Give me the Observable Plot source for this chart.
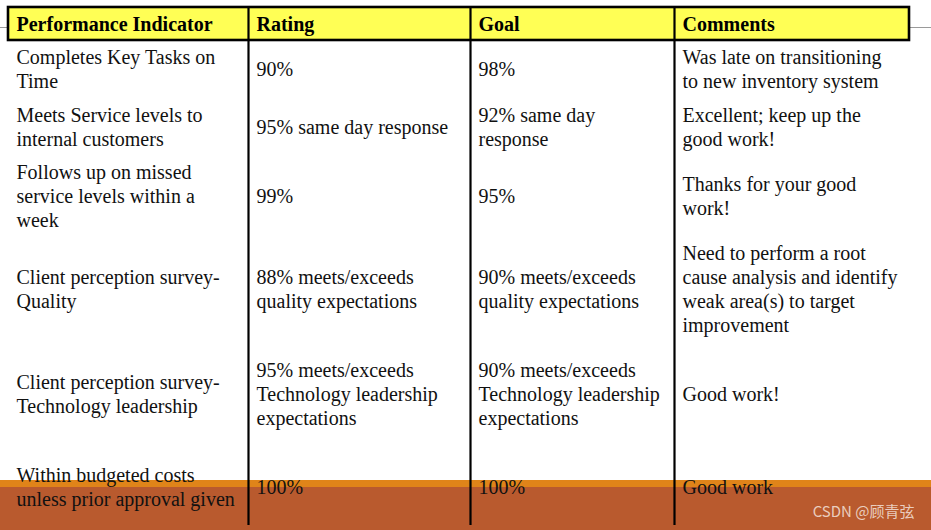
<!DOCTYPE html>
<html>
<head>
<meta charset="utf-8">
<script src="https://cdn.jsdelivr.net/npm/d3@7"></script>
<script src="https://cdn.jsdelivr.net/npm/@observablehq/plot@0.6"></script>
<style>
  html, body { margin: 0; padding: 0; background: #fff; }
  #chart svg { display: block; }
</style>
</head>
<body>
<div id="chart"></div>
<script>
// ---- data (content) ----
const headers = ["Performance Indicator", "Rating", "Goal", "Comments"];
const indicators = [
  "Completes Key Tasks on\nTime",
  "Meets Service levels to\ninternal customers",
  "Follows up on missed\nservice levels within a\nweek",
  "Client perception survey-\nQuality",
  "Client perception survey-\nTechnology leadership",
  "Within budgeted costs\nunless prior approval given"
];
const ratings = [
  "90%",
  "95% same day response",
  "99%",
  "88% meets/exceeds\nquality expectations",
  "95% meets/exceeds\nTechnology leadership\nexpectations",
  "100%"
];
const goals = [
  "98%",
  "92% same day\nresponse",
  "95%",
  "90% meets/exceeds\nquality expectations",
  "90% meets/exceeds\nTechnology leadership\nexpectations",
  "100%"
];
const comments = [
  "Was late on transitioning\nto new inventory system",
  "Excellent; keep up the\ngood work!",
  "Thanks for your good\nwork!",
  "Need to perform a root\ncause analysis and identify\nweak area(s) to target\nimprovement",
  "Good work!",
  "Good work"
];
const watermark = "CSDN @顾青弦";

// ---- layout (kept separate from data) ----
const W = 931, H = 530;
const colEdges = [8, 248, 470, 674, 909];
const headerTop = 7, headerBottom = 40;
const rowCenters = [68, 126, 195, 288, 393, 486];
const pad = 8;
const serif = "'Liberation Serif', 'Times New Roman', serif";

const columns = [indicators, ratings, goals, comments];
const cells = [];
columns.forEach((col, j) => col.forEach((t, i) => cells.push({x: colEdges[j] + pad, y: rowCenters[i], text: t})));
const headerCells = headers.map((h, j) => ({x: colEdges[j] + pad, y: (headerTop + headerBottom) / 2 + 0.5, text: h}));
const dividers = colEdges.slice(1, -1).map(x => ({x}));

const chart = Plot.plot({
  width: W,
  height: H,
  margin: 0,
  x: {type: "identity", axis: null},
  y: {type: "identity", axis: null},
  style: {background: "#fff"},
  marks: [
    // side gray rule
    Plot.ruleY([{y: 27}], {y: "y", x1: 0, x2: colEdges[0], stroke: "#9a9a9a", strokeWidth: 1}),
    Plot.ruleY([{y: 27}], {y: "y", x1: colEdges[4], x2: W, stroke: "#9a9a9a", strokeWidth: 1}),
    // bottom bands
    Plot.rect([{y1: 480, y2: 488}], {x1: 0, x2: W, y1: "y1", y2: "y2", fill: "#e08419"}),
    Plot.rect([{y1: 487, y2: H}], {x1: 0, x2: W, y1: "y1", y2: "y2", fill: "#b95a2e"}),
    // header box
    Plot.rect([{x1: colEdges[0], x2: colEdges[4]}], {x1: "x1", x2: "x2", y1: headerTop, y2: headerBottom, fill: "#ffff55", stroke: "#000", strokeWidth: 2.6}),
    // vertical dividers
    Plot.ruleX(dividers, {x: "x", y1: headerTop, y2: 525, stroke: "#000", strokeWidth: 2.2}),
    // header text
    Plot.text(headerCells, {x: "x", y: "y", text: "text", textAnchor: "start", lineAnchor: "middle",
      fontFamily: serif, fontWeight: "bold", fontSize: 20, fill: "#000"}),
    // body text
    Plot.text(cells, {x: "x", y: "y", text: "text", textAnchor: "start", lineAnchor: "middle",
      fontFamily: serif, fontSize: 20, lineHeight: 24 / 20, fill: "#111"}),
    // watermark
    Plot.text([watermark], {x: 914, y: 512, text: d => d, textAnchor: "end", lineAnchor: "middle",
      fontFamily: "'Noto Sans CJK SC', sans-serif", fontSize: 15, fill: "#f4e2da", fillOpacity: 0.85})
  ]
});
document.getElementById("chart").appendChild(chart);
</script>
</body>
</html>
